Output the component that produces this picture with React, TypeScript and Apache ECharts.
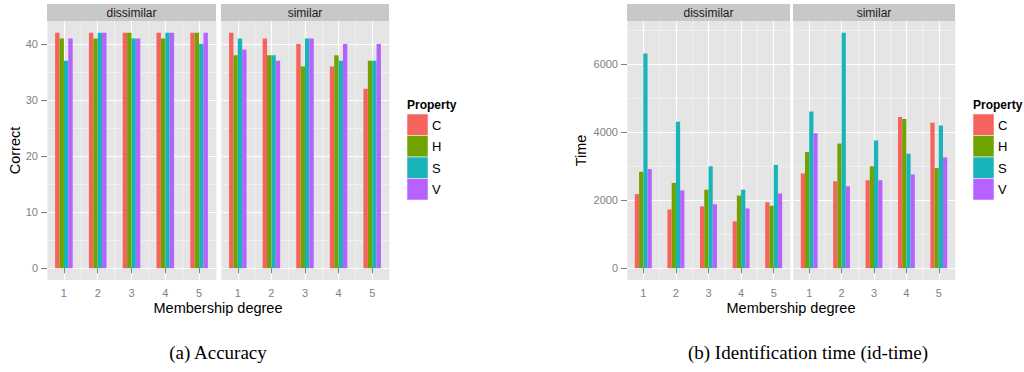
import React, { useEffect, useRef } from "react";
import * as echarts from "echarts";

// ---------- data ----------
const categories = ["1", "2", "3", "4", "5"];
const properties = ["C", "H", "S", "V"];
const propertyColors = ["#F6625C", "#70A300", "#18B4B9", "#B562FF"];
const facets = ["dissimilar", "similar"];

// Accuracy (Correct)
const accDissimilarC = [42, 42, 42, 42, 42];
const accDissimilarH = [41, 41, 42, 41, 42];
const accDissimilarS = [37, 42, 41, 42, 40];
const accDissimilarV = [41, 42, 41, 42, 42];
const accSimilarC = [42, 41, 40, 36, 32];
const accSimilarH = [38, 38, 36, 38, 37];
const accSimilarS = [41, 38, 41, 37, 37];
const accSimilarV = [39, 37, 41, 40, 40];

// Identification time (Time)
const timeDissimilarC = [2180, 1730, 1820, 1380, 1940];
const timeDissimilarH = [2840, 2510, 2310, 2140, 1840];
const timeDissimilarS = [6320, 4310, 3000, 2310, 3040];
const timeDissimilarV = [2920, 2290, 1880, 1760, 2200];
const timeSimilarC = [2790, 2560, 2590, 4450, 4280];
const timeSimilarH = [3420, 3670, 3000, 4390, 2950];
const timeSimilarS = [4610, 6930, 3760, 3370, 4200];
const timeSimilarV = [3970, 2410, 2590, 2760, 3260];

// axis ticks
const xTicks = [1, 2, 3, 4, 5];
const accTicks = [0, 10, 20, 30, 40];
const accMinorTicks = [5, 15, 25, 35];
const accLimits = [-2.1, 44.1];
const timeTicks = [0, 2000, 4000, 6000];
const timeMinorTicks = [1000, 3000, 5000, 7000];
const timeLimits = [-346.5, 7276.5];

// ---------- layout ----------
const PANEL_TOP = 21;
const PANEL_H = 259;
const STRIP_TOP = 4;
const panels = [
  { left: 47, width: 169, chart: 0, facet: 0 },
  { left: 221, width: 168, chart: 0, facet: 1 },
  { left: 627, width: 163, chart: 1, facet: 0 },
  { left: 793, width: 162, chart: 1, facet: 1 },
];
const panelData = [
  [accDissimilarC, accDissimilarH, accDissimilarS, accDissimilarV],
  [accSimilarC, accSimilarH, accSimilarS, accSimilarV],
  [timeDissimilarC, timeDissimilarH, timeDissimilarS, timeDissimilarV],
  [timeSimilarC, timeSimilarH, timeSimilarS, timeSimilarV],
];

const GREY50 = "#7F7F7F";
const FONT = "'Liberation Sans', Arial, Helvetica, sans-serif";
const plain = (v: number) => String(v);

function buildOption() {
  const grid: any[] = [];
  const xAxis: any[] = [];
  const yAxis: any[] = [];
  const series: any[] = [];
  const graphic: any[] = [];

  panels.forEach((p, g) => {
    const isAcc = p.chart === 0;
    const ticks = isAcc ? accTicks : timeTicks;
    const minor = isAcc ? accMinorTicks : timeMinorTicks;
    const lim = isAcc ? accLimits : timeLimits;
    const showY = p.facet === 0;

    grid.push({
      left: p.left,
      top: PANEL_TOP,
      width: p.width,
      height: PANEL_H,
      show: true,
      backgroundColor: "#E5E5E5",
      borderWidth: 0,
      containLabel: false,
    });

    // category axis for bars + minor vertical grid lines
    xAxis.push({
      type: "category",
      gridIndex: g,
      data: categories,
      position: "bottom",
      boundaryGap: true,
      axisLine: { show: false },
      axisTick: { show: false },
      axisLabel: { show: false },
      splitLine: { show: true, lineStyle: { color: "#F2F2F2", width: 0.8 } },
      z: 1,
    });
    // value axis for labels, ticks and major vertical grid lines
    xAxis.push({
      type: "value",
      gridIndex: g,
      min: 0.5,
      max: 5.5,
      position: "bottom",
      axisLine: { show: false },
      axisTick: {
        show: true,
        length: 5,
        customValues: xTicks,
        lineStyle: { color: GREY50, width: 1 },
      },
      axisLabel: {
        show: true,
        customValues: xTicks,
        formatter: plain,
        color: GREY50,
        fontSize: 11,
        fontFamily: FONT,
        margin: 7,
      },
      splitLine: { show: true, lineStyle: { color: "#FFFFFF", width: 1.2 } },
      z: 2,
    });

    yAxis.push({
      type: "value",
      gridIndex: g,
      min: lim[0],
      max: lim[1],
      position: "left",
      axisLine: { show: false },
      axisTick: {
        show: showY,
        length: 6,
        customValues: ticks,
        lineStyle: { color: GREY50, width: 1 },
      },
      axisLabel: {
        show: showY,
        customValues: ticks,
        formatter: plain,
        color: GREY50,
        fontSize: 11,
        fontFamily: FONT,
        margin: 9,
      },
      splitLine: { show: true, lineStyle: { color: "#FFFFFF", width: 1.2 } },
      z: 2,
    });
    yAxis.push({
      type: "value",
      gridIndex: g,
      min: lim[0],
      max: lim[1],
      position: "left",
      axisLine: { show: false },
      axisTick: { show: false, customValues: minor },
      axisLabel: { show: false, customValues: minor },
      splitLine: { show: true, lineStyle: { color: "#F2F2F2", width: 0.8 } },
      z: 1,
    });

    properties.forEach((name, i) => {
      series.push({
        type: "bar",
        name,
        xAxisIndex: 2 * g,
        yAxisIndex: 2 * g,
        data: panelData[g][i],
        barWidth: "13%",
        barGap: "0%",
        itemStyle: { color: propertyColors[i] },
        z: 3,
      });
    });

    // facet strip
    graphic.push({
      type: "rect",
      shape: { x: p.left, y: STRIP_TOP, width: p.width, height: PANEL_TOP - STRIP_TOP },
      style: { fill: "#C8C8C8" },
      silent: true,
    });
    graphic.push({
      type: "text",
      x: p.left + p.width / 2,
      y: (STRIP_TOP + PANEL_TOP) / 2 + 0.5,
      style: {
        text: facets[p.facet],
        font: `12px ${FONT}`,
        fill: "#1A1A1A",
        textAlign: "center",
        textVerticalAlign: "middle",
        align: "center",
        verticalAlign: "middle",
      },
      silent: true,
    });
  });

  // axis titles, legends, captions per chart
  const chartsMeta = [
    {
      yTitle: "Correct",
      yTitleX: 15,
      xCenter: (47 + 389) / 2,
      legendX: 407,
      caption: "(a) Accuracy",
      captionX: 218,
    },
    {
      yTitle: "Time",
      yTitleX: 581,
      xCenter: (627 + 955) / 2,
      legendX: 973,
      caption: "(b) Identification time (id-time)",
      captionX: 808,
    },
  ];

  chartsMeta.forEach((c) => {
    graphic.push({
      type: "text",
      x: c.yTitleX,
      y: PANEL_TOP + PANEL_H / 2,
      rotation: Math.PI / 2,
      style: {
        text: c.yTitle,
        font: `14.5px ${FONT}`,
        fill: "#000000",
        textAlign: "center",
        textVerticalAlign: "middle",
        align: "center",
        verticalAlign: "middle",
      },
      silent: true,
    });
    graphic.push({
      type: "text",
      x: c.xCenter,
      y: 308,
      style: {
        text: "Membership degree",
        font: `14.5px ${FONT}`,
        fill: "#000000",
        textAlign: "center",
        textVerticalAlign: "middle",
        align: "center",
        verticalAlign: "middle",
      },
      silent: true,
    });
    // legend
    graphic.push({
      type: "text",
      x: c.legendX,
      y: 105,
      style: {
        text: "Property",
        font: `bold 12px ${FONT}`,
        fill: "#000000",
        textAlign: "left",
        textVerticalAlign: "middle",
        align: "left",
        verticalAlign: "middle",
      },
      silent: true,
    });
    properties.forEach((name, i) => {
      const ky = 114 + i * 21.5;
      graphic.push({
        type: "rect",
        shape: { x: c.legendX, y: ky, width: 21, height: 21.5 },
        style: { fill: propertyColors[i], stroke: "#F2F2F2", lineWidth: 0.6 },
        silent: true,
      });
      graphic.push({
        type: "text",
        x: c.legendX + 25,
        y: ky + 11,
        style: {
          text: name,
          font: `13px ${FONT}`,
          fill: "#000000",
          textAlign: "left",
          textVerticalAlign: "middle",
          align: "left",
          verticalAlign: "middle",
        },
        silent: true,
      });
    });
    // caption
    graphic.push({
      type: "text",
      x: c.captionX,
      y: 352,
      style: {
        text: c.caption,
        font: `19px 'Liberation Serif', 'Times New Roman', serif`,
        fill: "#000000",
        textAlign: "center",
        textVerticalAlign: "middle",
        align: "center",
        verticalAlign: "middle",
      },
      silent: true,
    });
  });

  return {
    animation: false,
    backgroundColor: "#FFFFFF",
    grid,
    xAxis,
    yAxis,
    series,
    graphic,
  };
}

export default function App() {
  const ref = useRef<HTMLDivElement | null>(null);
  useEffect(() => {
    if (!ref.current) return;
    const chart = echarts.init(ref.current, undefined, { renderer: "svg" });
    chart.setOption(buildOption() as any);
    return () => {
      chart.dispose();
    };
  }, []);
  return (
    <div
      ref={ref}
      style={{
        position: "fixed",
        left: 0,
        top: 0,
        width: 1024,
        height: 372,
        background: "#FFFFFF",
      }}
    />
  );
}
